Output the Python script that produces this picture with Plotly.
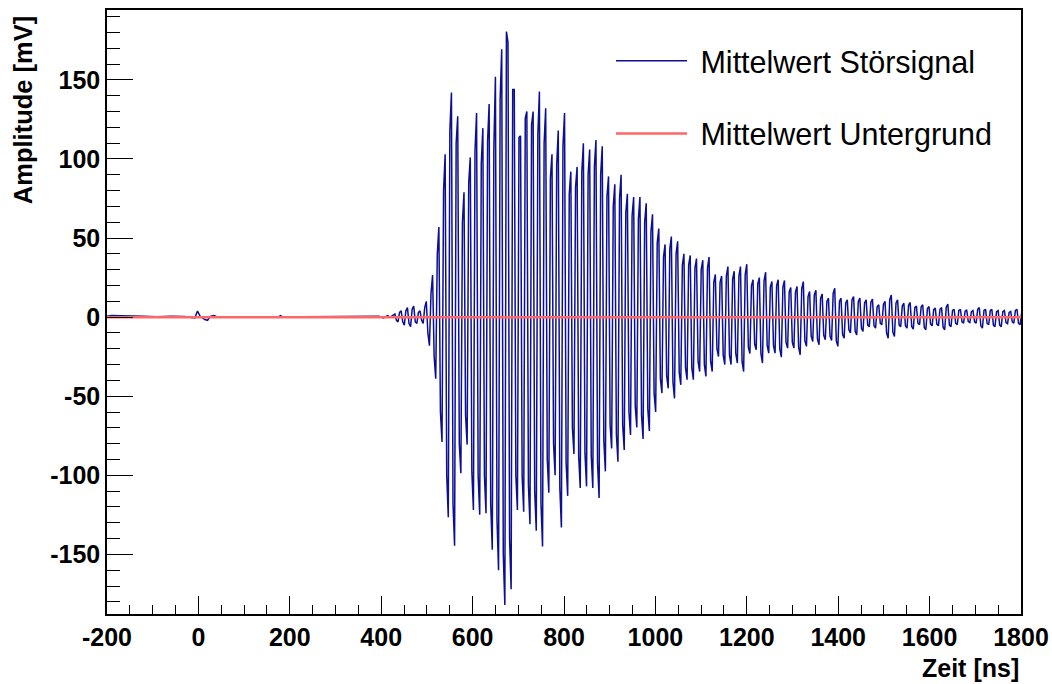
import numpy as np
import plotly.graph_objects as go

# ---- pre-trigger baseline of the averaged interference signal (t in ns, mV)
pre_t = [-200, -190, -170, -150, -120, -90, -60, -30, -8, -2, 4, 14, 20, 26, 34, 40,
         70, 110, 150, 176, 180, 184, 230, 280, 330, 370, 395, 405, 414, 420]
pre_v = [0.6, 1.0, 0.8, 0.5, 0.5, 0.3, 0.6, 0.4, -0.5, 3.8, 0.5, -1.5, -2.0, 0.5, 1.0, 0.3,
         0.4, 0.3, 0.2, 0.3, 1.0, 0.2, 0.3, 0.4, 0.2, 0.3, 0.5, -0.5, 1.0, 0.0]

# ---- oscillation, four samples per cycle: two near the maximum, two near the minimum
osc_start = 426.5      # ns, time of the first sample of the first cycle
osc_period = 13.75     # ns
top_1 = [1, 3, 4, 5, 3, 6,
         15, 40, 80, 118, 110, 60, 85, 105, 97.3, 111,
         106.8, 137.4, 180.6, 144, 113.7, 125.8, 121.5, 115.2, 110, 88,
         96, 108, 78, 82, 92, 90, 95, 90, 76, 70,
         75, 66, 64, 62, 60, 54, 47, 38, 43, 40,
         33, 33, 31, 30, 31, 22, 22, 26, 24, 26,
         27, 20, 21, 23, 19, 20, 19, 16, 16, 18,
         13, 14, 12, 10, 15, 10, 9, 11, 10, 9,
         9.5, 6.5, 8, 11, 9, 7, 7.5, 6, 6.5, 5.5,
         4.8, 5, 6.5, 4.2, 4.2, 3.8, 3.5, 5, 4.2, 4.2,
         3.5, 3.5, 3, 4.2, 3]
top_2 = [2, 4, 6, 7, 4, 10,
         26.6, 57, 103, 142, 127, 79, 101, 129, 119.5, 134.8,
         152, 169.4, 173.8, 144, 114.6, 130, 130, 142.6, 132, 103,
         118, 129, 92, 95, 110, 106, 112, 108, 89, 84,
         90, 78, 76, 76, 72, 65, 56, 46, 51, 48,
         40, 39, 37, 36, 38, 27, 26, 32, 29, 32,
         33.5, 23.6, 25, 28.4, 22.5, 23.6, 23.2, 18.8, 19.4, 22.5,
         16.2, 17, 14.7, 12, 18.3, 12, 11, 13, 12, 11,
         11.4, 7.8, 10, 14, 11, 8.8, 9.3, 7, 7.8, 6.7,
         5.7, 6, 8.2, 5, 5, 4.6, 4.2, 6, 5, 5,
         4.2, 4.2, 3.6, 5, 3.6]
bottom_1 = [-2, -3, -4, -3, -2, -10,
            -25, -60, -100, -118, -80, -62, -98, -100, -100, -118,
            -128, -150, -140, -100, -100, -106, -110, -118, -90, -80,
            -108, -92, -70, -88, -86, -88, -92, -78, -68, -74,
            -68, -60, -56, -62, -58, -48, -39, -37, -41, -35,
            -32, -32, -28, -30, -28, -20, -24, -24, -23, -28,
            -19, -17, -23, -18, -18, -20, -16, -16, -19, -15,
            -12, -14, -11.5, -12, -15, -11, -8, -9, -7, -5,
            -5.5, -4, -10, -9.5, -5, -5.5, -6, -4, -6.5, -4.5,
            -4.5, -6.5, -5, -4, -3, -2.8, -3, -5.5, -4, -5,
            -5, -3.5, -3, -4, -2.5]
bottom_2 = [-3, -5, -6, -4, -4, -18,
            -39, -79, -126.5, -144.6, -98.7, -80.6, -122, -125, -124, -147,
            -160, -182, -172, -122, -123, -131, -135, -145, -111, -100,
            -133, -113, -86.6, -108, -107, -108, -114.4, -97.5, -83, -91.4,
            -84, -74.5, -69.7, -77, -72, -60, -48, -45, -51.4, -42.8,
            -39.6, -39.6, -34.4, -37.5, -34.4, -24.9, -30, -30, -29, -34.4,
            -23, -20.6, -29, -22.8, -22.8, -25.3, -19.6, -19.6, -23.8, -18.5,
            -15.4, -17.5, -14.3, -14.7, -18.5, -13.3, -10, -11.2, -9, -6,
            -7, -4.8, -13.3, -12.2, -6, -7, -7.6, -4.8, -8, -5.5,
            -5.5, -8, -6, -4.8, -3.8, -3.4, -3.8, -7, -4.8, -6,
            -6, -4.2, -3.8, -4.8, -3]

# ---- mean background level
bg_t = [-200, 1800]
bg_v = [0.0, 0.0]

# ---- axis ticks
x_ticks = [-200, 0, 200, 400, 600, 800, 1000, 1200, 1400, 1600, 1800]
x_tick_labels = ["-200", "0", "200", "400", "600", "800", "1000", "1200", "1400", "1600", "1800"]
y_ticks = [-150, -100, -50, 0, 50, 100, 150]
y_tick_labels = ["-150", "-100", "-50", "0", "50", "100", "150"]

# lay the four samples of every cycle on the sampling grid
n = len(top_1)
cycle_t = osc_start + osc_period * np.arange(n)
osc_t = (cycle_t[:, None] + osc_period * np.array([0.0, 0.25, 0.5, 0.75])[None, :]).ravel()
osc_v = np.column_stack([top_1, top_2, bottom_1, bottom_2]).ravel()

sig_t = np.concatenate([pre_t, osc_t])
sig_v = np.concatenate([pre_v, osc_v])

BLUE = "#0b0f96"
RED = "#ff6666"
FONT = "Liberation Sans"

fig = go.Figure()
fig.add_trace(go.Scatter(x=sig_t, y=sig_v, mode="lines", name="\u00a0Mittelwert Störsignal",
                         line=dict(color=BLUE, width=1.5), legendgroup="a"))
fig.add_trace(go.Scatter(x=bg_t, y=bg_v, mode="lines", name="\u00a0Mittelwert Untergrund",
                         line=dict(color=RED, width=2.5), legendgroup="b"))

axis_common = dict(showgrid=False, zeroline=False, showline=True, mirror=True,
                   linecolor="black", linewidth=1.5, ticks="inside", tickcolor="black",
                   tickwidth=1, automargin=False,
                   tickfont=dict(family=FONT, size=25, color="black", weight="bold"))

fig.update_xaxes(range=[-200, 1800], tickmode="array", tickvals=x_ticks, ticktext=x_tick_labels,
                 ticklen=18, minor=dict(ticks="inside", ticklen=9, dtick=50, tick0=0,
                                        tickcolor="black", tickwidth=1),
                 **axis_common)
fig.update_yaxes(range=[-187.7, 194.2], tickmode="array", tickvals=y_ticks, ticktext=y_tick_labels,
                 ticklen=26, minor=dict(ticks="inside", ticklen=13, dtick=10, tick0=0,
                                        tickcolor="black", tickwidth=1),
                 **axis_common)

fig.add_annotation(text="Zeit [ns]", xref="paper", yref="paper", x=1.0, y=-0.089,
                   xanchor="right", yanchor="middle", showarrow=False,
                   font=dict(family=FONT, size=25, color="black", weight="bold"))
fig.add_annotation(text="Amplitude [mV]", xref="paper", yref="paper", x=-0.092, y=0.834,
                   xanchor="center", yanchor="middle", textangle=-90, showarrow=False,
                   font=dict(family=FONT, size=25.5, color="black", weight="bold"))

fig.update_layout(
    width=1052, height=684,
    margin=dict(l=107, r=31, t=10, b=70),
    paper_bgcolor="white", plot_bgcolor="white",
    legend=dict(x=0.5514, y=0.9595, xanchor="left", yanchor="top", bgcolor="rgba(0,0,0,0)",
                font=dict(family=FONT, size=30.5, color="black"), itemwidth=71,
                tracegroupgap=30),
)

fig.write_html("out.html")
